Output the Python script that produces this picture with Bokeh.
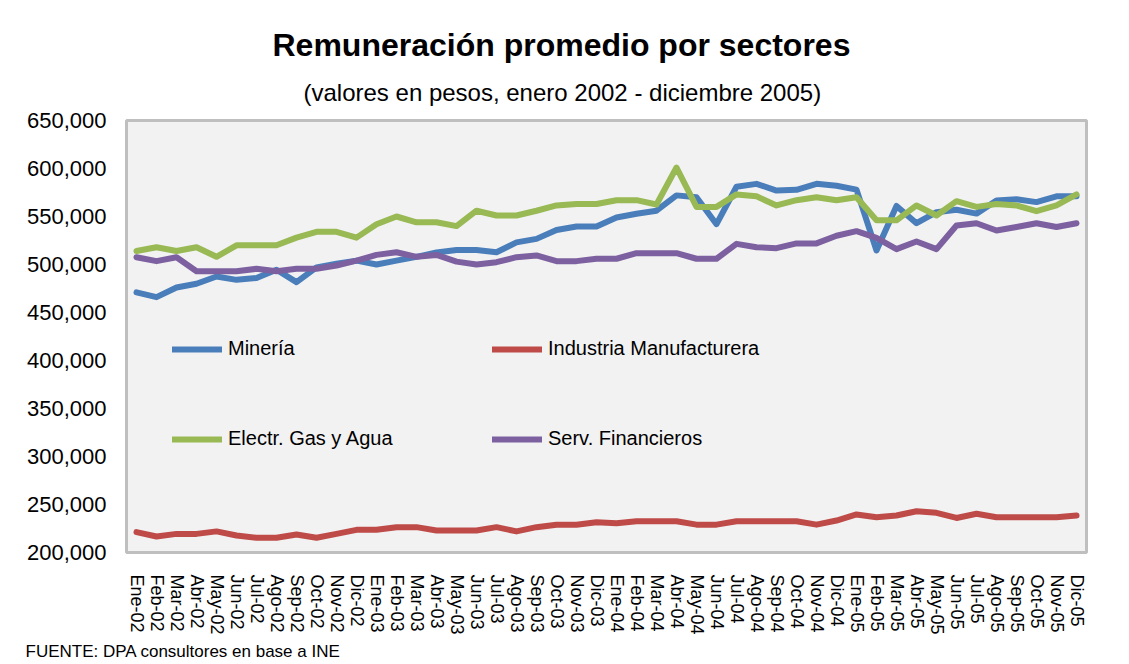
from bokeh.plotting import figure
from bokeh.models import (FactorRange, Range1d, NumeralTickFormatter, SingleIntervalTicker,
                          Legend, LegendItem, Title)
from bokeh.embed import file_html
from bokeh.resources import INLINE

months = ["Ene-02", "Feb-02", "Mar-02", "Abr-02", "May-02", "Jun-02", "Jul-02", "Ago-02", "Sep-02", "Oct-02", "Nov-02", "Dic-02",
          "Ene-03", "Feb-03", "Mar-03", "Abr-03", "May-03", "Jun-03", "Jul-03", "Ago-03", "Sep-03", "Oct-03", "Nov-03", "Dic-03",
          "Ene-04", "Feb-04", "Mar-04", "Abr-04", "May-04", "Jun-04", "Jul-04", "Ago-04", "Sep-04", "Oct-04", "Nov-04", "Dic-04",
          "Ene-05", "Feb-05", "Mar-05", "Abr-05", "May-05", "Jun-05", "Jul-05", "Ago-05", "Sep-05", "Oct-05", "Nov-05", "Dic-05"]

mineria = [471000, 466000, 476000, 480000, 487500, 484000, 486000, 494500, 481600, 497000, 500700, 504000,
           500000, 504000, 508000, 512500, 515000, 515000, 512800, 523000, 526700, 536000, 539600, 539600,
           549000, 552800, 556000, 572000, 570000, 542000, 581000, 584000, 577000, 577800, 584000, 582000,
           578000, 514600, 561000, 543000, 554500, 557000, 553000, 566700, 568000, 565000, 571000, 571000]

industria = [221200, 216700, 219400, 219400, 222000, 217700, 215300, 215300, 218800, 215300, 219400, 223600,
             223600, 226400, 226400, 222900, 222900, 222900, 226400, 222000, 226400, 229000, 229000, 231600,
             230500, 232600, 232600, 232600, 229000, 229000, 232600, 232600, 232600, 232600, 229000, 233300,
             239600, 236800, 238500, 243000, 241300, 236000, 240300, 236800, 236800, 236800, 236800, 238500]

electr = [514000, 518000, 514000, 518000, 508000, 520000, 520000, 520000, 528000, 534000, 534000, 528000,
          542000, 550000, 544000, 544000, 540000, 556000, 551000, 551000, 556000, 561500, 563000, 563000,
          567000, 567000, 562500, 601000, 560000, 560000, 573000, 571000, 561500, 567000, 570000, 567000,
          570000, 546000, 546000, 561500, 551000, 566000, 560000, 563000, 561500, 555600, 561500, 573000]

financieros = [507600, 503500, 507600, 493000, 493000, 493000, 495500, 493000, 495500, 495500, 499000, 504000,
               510000, 512800, 508000, 510000, 503000, 500000, 502400, 507600, 509400, 503500, 503500, 506000,
               506000, 511800, 511800, 511800, 506000, 506000, 521500, 518000, 517000, 522000, 522000, 530000,
               534700, 527800, 516000, 524000, 516000, 540600, 543000, 535400, 539000, 543000, 539000, 543000]

series_names = ["Minería", "Industria Manufacturera", "Electr. Gas y Agua", "Serv. Financieros"]
series_colors = ["#4a7ebb", "#be4b48", "#98b954", "#7d60a0"]

title_text = "Remuneración promedio por sectores"
subtitle_text = "(valores en pesos, enero 2002 - diciembre 2005)"
footer_text = "FUENTE: DPA consultores en base a INE"

FONT = "Liberation Sans"

p = figure(width=1129, height=664,
           x_range=FactorRange(factors=months),
           y_range=Range1d(200000, 650000),
           output_backend="svg", toolbar_location=None,
           min_border_left=126, min_border_right=43,
           min_border_top=120, min_border_bottom=112)

p.background_fill_color = "#f2f2f2"
p.border_fill_color = "white"
p.outline_line_color = "#bfbfbf"
p.outline_line_width = 3
p.xgrid.grid_line_color = None
p.ygrid.grid_line_color = None

# axes
p.yaxis.ticker = SingleIntervalTicker(interval=50000, num_minor_ticks=0)
p.yaxis.formatter = NumeralTickFormatter(format="0,0")
p.yaxis.axis_line_color = None
p.yaxis.major_tick_line_color = None
p.yaxis.minor_tick_line_color = None
p.yaxis.major_tick_out = 0
p.yaxis.major_tick_in = 0
p.yaxis.major_label_standoff = 20
p.yaxis.major_label_text_font = FONT
p.yaxis.major_label_text_font_size = "22px"
p.yaxis.major_label_text_color = "black"

p.xaxis.axis_line_color = None
p.xaxis.major_tick_line_color = None
p.xaxis.major_tick_out = 0
p.xaxis.major_tick_in = 0
p.xaxis.major_label_orientation = "vertical"
p.xaxis.major_label_standoff = 22
p.xaxis.major_label_text_font = FONT
p.xaxis.major_label_text_font_size = "18px"
p.xaxis.major_label_text_color = "black"

renderers = []
for data, col in zip([mineria, industria, electr, financieros], series_colors):
    r = p.line(months, data, line_color=col, line_width=6, line_join="round", line_cap="round")
    renderers.append(r)

legend_pos = [(46, 192), (366, 192), (46, 102), (366, 102)]
for name, r, loc in zip(series_names, renderers, legend_pos):
    leg = Legend(items=[LegendItem(label=name, renderers=[r])], location=loc,
                 padding=0, margin=0, spacing=0, border_line_color=None,
                 background_fill_alpha=0, glyph_width=50, glyph_height=20,
                 label_height=20, label_standoff=6,
                 label_text_font=FONT, label_text_font_size="20px",
                 label_text_color="black")
    p.add_layout(leg)

# subtitle first (closest to the frame), then the main title
p.add_layout(Title(text=subtitle_text, align="left", offset=177, standoff=30,
                   text_font=FONT, text_font_size="24px", text_font_style="normal",
                   text_color="black"), "above")
p.add_layout(Title(text=title_text, align="left", offset=146, standoff=-3,
                   text_font=FONT, text_font_size="32px", text_font_style="bold",
                   text_color="black"), "above")
p.add_layout(Title(text=footer_text, align="left", offset=-101, standoff=5,
                   text_font=FONT, text_font_size="17px", text_font_style="normal",
                   text_color="black"), "below")

open("out.html", "w").write(file_html(p, INLINE))
